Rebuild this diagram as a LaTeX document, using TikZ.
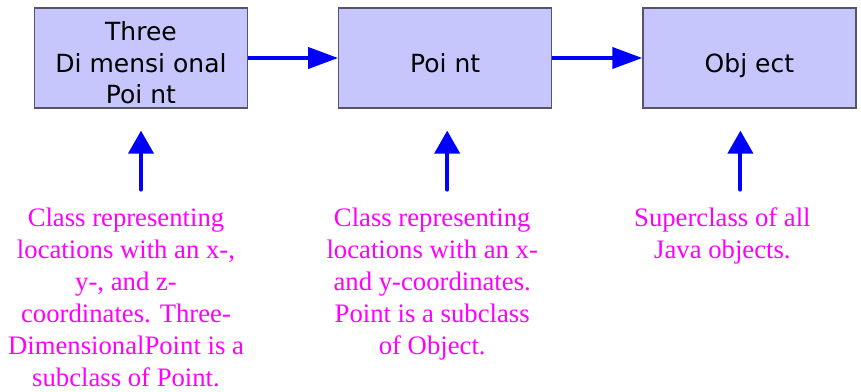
\documentclass[tikz,border=0pt]{standalone}
\usepackage{fontspec}
\setmainfont{Liberation Serif}
\newfontfamily\boxfont{DejaVu Sans}
\usetikzlibrary{arrows.meta, positioning}
\definecolor{classfill}{RGB}{198,198,252}
\definecolor{classedge}{RGB}{85,85,105}
\definecolor{linkblue}{RGB}{0,0,255}
\definecolor{notepink}{RGB}{255,0,255}

\begin{document}
\begin{tikzpicture}[
  x=1pt, y=-1pt, node distance=90pt,
  classbox/.style={draw=classedge, line width=1.2pt, fill=classfill, minimum width=213pt,
    minimum height=100pt, inner sep=0pt, align=center, text height=28pt, text depth=0pt,
    font=\boxfont\fontsize{25}{31.5}\selectfont},
  note/.style={text=notepink, inner sep=0pt, align=center,
    font=\fontsize{26.7}{32}\selectfont},
  link/.style={draw=linkblue, line width=4pt, -{Triangle[length=30pt, width=21pt]}},
  pointer/.style={draw=linkblue, line width=4pt, line cap=round,
    shorten <=18pt, shorten >=22pt, -{Triangle[length=23pt, width=25pt]}}
]
\useasboundingbox (0,0) rectangle (861,391);
\node[classbox, text height=91pt] (tdp) at (141,58) {Three\\Di mensi onal\\Poi nt};
\node[classbox, right=of tdp] (pt) {Poi nt};
\node[classbox, right=of pt] (obj) {Obj ect};
\draw[link] (tdp) -- (pt);
\draw[link] (pt) -- (obj);
% notes under each class
\node[note, below=99pt of tdp, xshift=-15pt] (tdpnote) {Class representing\\locations with an x-,\\y-, and z-\\coordinates. Three-\\DimensionalPoint is a\\subclass of Point.};
\node[note, below=99pt of pt, xshift=-13pt] (ptnote) {Class representing\\locations with an x-\\and y-coordinates.\\Point is a subclass\\of Object.};
\node[note, below=99pt of obj, xshift=-27pt] (objnote) {Superclass of all\\Java objects.};
\draw[pointer] (tdp.south |- tdpnote.north) -- (tdp.south);
\draw[pointer] ([xshift=2pt]pt.south |- ptnote.north) -- ([xshift=2pt]pt.south);
\draw[pointer] ([xshift=-9pt]obj.south |- objnote.north) -- ([xshift=-9pt]obj.south);
\end{tikzpicture}
\end{document}
